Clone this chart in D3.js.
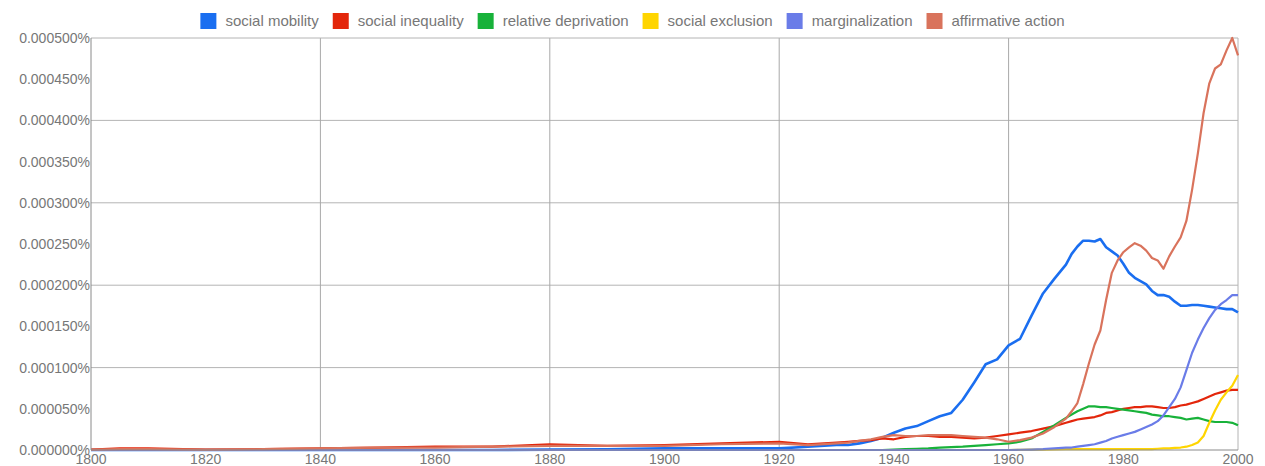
<!DOCTYPE html>
<html>
<head>
<meta charset="utf-8">
<script src="https://cdn.jsdelivr.net/npm/d3@7"></script>
<style>
  body { margin: 0; background: #fff; }
  text { font-family: "Liberation Sans", Arial, sans-serif; fill: #777; }
</style>
</head>
<body>
<svg width="1265" height="466"></svg>
<script>
// values are in millionths of a percent (500 = 0.000500%)
const years = [1800, 1805, 1810, 1820, 1830, 1840, 1850, 1860, 1870, 1880, 1890, 1900, 1910, 1920, 1925, 1930,
  1932, 1934, 1936, 1938, 1940, 1942, 1944, 1946, 1948, 1950, 1952, 1954, 1956, 1958, 1960, 1962, 1964, 1966, 1968, 1970,
  1971, 1972, 1973, 1974, 1975, 1976, 1977, 1978, 1979, 1980, 1981, 1982, 1983, 1984, 1985,
  1986, 1987, 1988, 1989, 1990, 1991, 1992, 1993, 1994, 1995, 1996, 1997, 1998, 1999, 2000];

const socialMobility = [0, 0, 0, 0, 0, 0, 0, 0, 0, 0.5, 1, 2, 2, 2, 4, 6,
  6, 8, 11, 15, 21, 26, 29, 35, 41, 45, 61, 82, 104, 110, 127, 135, 163, 190, 208, 225,
  238, 247, 254, 254, 253, 256, 246, 241, 236, 226, 215, 209, 205, 201, 193,
  188, 188, 186, 180, 175, 175, 176, 176, 175, 174, 173, 172, 171, 171, 167];

const socialInequality = [0.5, 2, 2, 0.5, 1, 2, 3, 4, 4, 7, 5, 6, 8, 10, 7, 9,
  10, 11, 12, 14, 13, 16, 17, 17, 16, 16, 15, 14, 15, 17, 19, 21, 23, 26, 29, 33,
  35, 37, 38, 39, 40, 42, 45, 46, 48, 50, 51, 52, 52, 53, 53,
  52, 51, 51, 52, 54, 55, 57, 59, 62, 65, 68, 70, 72, 73, 73];

const relativeDeprivation = [0, 0, 0, 0, 0, 0, 0, 0, 0, 0, 0, 0, 0, 0, 0, 0,
  0, 0, 0, 0, 0.5, 1, 1.5, 2, 3, 3.5, 4, 5, 6, 7, 8, 10, 14, 22, 30, 39,
  43, 47, 50, 53, 53, 52, 52, 51, 50, 49, 48, 47, 46, 45, 43,
  42, 41, 41, 40, 39, 37, 38, 39, 37, 35, 34, 34, 34, 33, 30];

const socialExclusion = [0, 0, 0, 0, 0, 0, 0, 0, 0, 0, 0, 0, 0, 0, 0, 0,
  0, 0, 0, 0, 0, 0, 0, 0, 0, 0, 0, 0, 0, 0, 0, 0.3, 0.5, 0.5, 0.8, 1,
  1, 1, 1, 1, 1, 1, 1, 1, 1, 1, 1, 1, 1, 1, 1,
  1.5, 2, 2, 2.5, 3, 4, 6, 9, 17, 33, 48, 61, 70, 78, 91];

const marginalization = [0, 0, 0, 0, 0, 0, 0, 0, 0, 0, 0, 0, 0, 0, 0, 0,
  0, 0, 0, 0, 0, 0, 0, 0, 0, 0, 0, 0, 0, 0, 0, 0.3, 0.5, 1, 2, 3,
  3, 4, 5, 6, 7, 9, 11, 14, 16, 18, 20, 22, 25, 28, 31,
  35, 42, 52, 62, 76, 97, 118, 134, 148, 160, 170, 177, 182, 188, 188];

const affirmativeAction = [0.5, 1, 1, 0.5, 1, 2, 3, 3, 4, 5, 5, 5, 7, 8, 6, 8,
  9, 11, 13, 16, 18, 17, 17, 18, 18, 18, 17, 16, 15, 13, 10, 12, 15, 20, 28, 38,
  47, 57, 80, 105, 128, 145, 182, 215, 230, 240, 246, 251, 248, 242, 233,
  230, 220, 235, 247, 258, 278, 316, 360, 409, 445, 463, 468, 485, 500, 479];

const seriesNames = ["social mobility", "social inequality", "relative deprivation",
  "social exclusion", "marginalization", "affirmative action"];
const seriesValues = [socialMobility, socialInequality, relativeDeprivation,
  socialExclusion, marginalization, affirmativeAction];
const colors = ["#1a6ef0", "#e3260b", "#18b23a", "#ffd500", "#6a7ce8", "#d9735c"];

const xTicks = [1800, 1820, 1840, 1860, 1880, 1900, 1920, 1940, 1960, 1980, 2000];
const xGrid = [1840, 1880, 1920, 1960];
const yTicks = [0, 50, 100, 150, 200, 250, 300, 350, 400, 450, 500];
const yGrid = [100, 200, 300, 400];

const svg = d3.select("svg");
const width = 1265;
const plotLeft = 91, plotRight = 1238, plotTop = 38, plotBottom = 450;

const x = d3.scaleLinear().domain([1800, 2000]).range([plotLeft, plotRight]);
const y = d3.scaleLinear().domain([0, 500]).range([plotBottom, plotTop]);

// grid lines
svg.selectAll(".hgrid")
  .data(yGrid)
  .join("line")
  .attr("x1", plotLeft).attr("x2", plotRight)
  .attr("y1", (d) => y(d)).attr("y2", (d) => y(d))
  .attr("stroke", "#b4b4b4");

svg.selectAll(".vgrid")
  .data(xGrid)
  .join("line")
  .attr("x1", (d) => x(d)).attr("x2", (d) => x(d))
  .attr("y1", plotTop).attr("y2", plotBottom)
  .attr("stroke", "#a8a8a8");

// frame
svg.append("line").attr("x1", plotLeft).attr("x2", plotRight).attr("y1", plotTop).attr("y2", plotTop).attr("stroke", "#b4b4b4");
svg.append("line").attr("x1", plotRight).attr("x2", plotRight).attr("y1", plotTop).attr("y2", plotBottom).attr("stroke", "#b4b4b4");

// series
const line = d3.line()
  .x((d, i) => x(years[i]))
  .y((d) => y(d));

seriesValues.forEach((vals, k) => {
  svg.append("path")
    .datum(vals)
    .attr("d", line)
    .attr("fill", "none")
    .attr("stroke", colors[k])
    .attr("stroke-width", k === 0 ? 2.6 : 2.2)
    .attr("stroke-linejoin", "round");
});

// axes lines
svg.append("line").attr("x1", plotLeft).attr("x2", plotRight).attr("y1", plotBottom).attr("y2", plotBottom).attr("stroke", "#8a8a8a");
svg.append("line").attr("x1", plotLeft).attr("x2", plotLeft).attr("y1", plotTop).attr("y2", plotBottom).attr("stroke", "#8a8a8a");

// tick labels
svg.selectAll(".ylab")
  .data(yTicks)
  .join("text")
  .attr("x", plotLeft - 1)
  .attr("y", (d) => y(d) + 5)
  .attr("text-anchor", "end")
  .attr("font-size", 14)
  .text((d) => (d / 1e6).toFixed(6) + "%");

svg.selectAll(".xlab")
  .data(xTicks)
  .join("text")
  .attr("x", (d) => x(d))
  .attr("y", 464)
  .attr("text-anchor", "middle")
  .attr("font-size", 14)
  .text((d) => d);

// legend, centred in the window
const legend = svg.append("g");
let lx = 0;
seriesNames.forEach((name, k) => {
  legend.append("rect")
    .attr("x", lx).attr("y", 13)
    .attr("width", 16).attr("height", 16)
    .attr("fill", colors[k]);
  const t = legend.append("text")
    .attr("x", lx + 25).attr("y", 26)
    .attr("font-size", 15)
    .text(name);
  lx += 25 + t.node().getComputedTextLength() + 14;
});
const legendWidth = lx - 14;
legend.attr("transform", `translate(${(width - legendWidth) / 2},0)`);
</script>
</body>
</html>
